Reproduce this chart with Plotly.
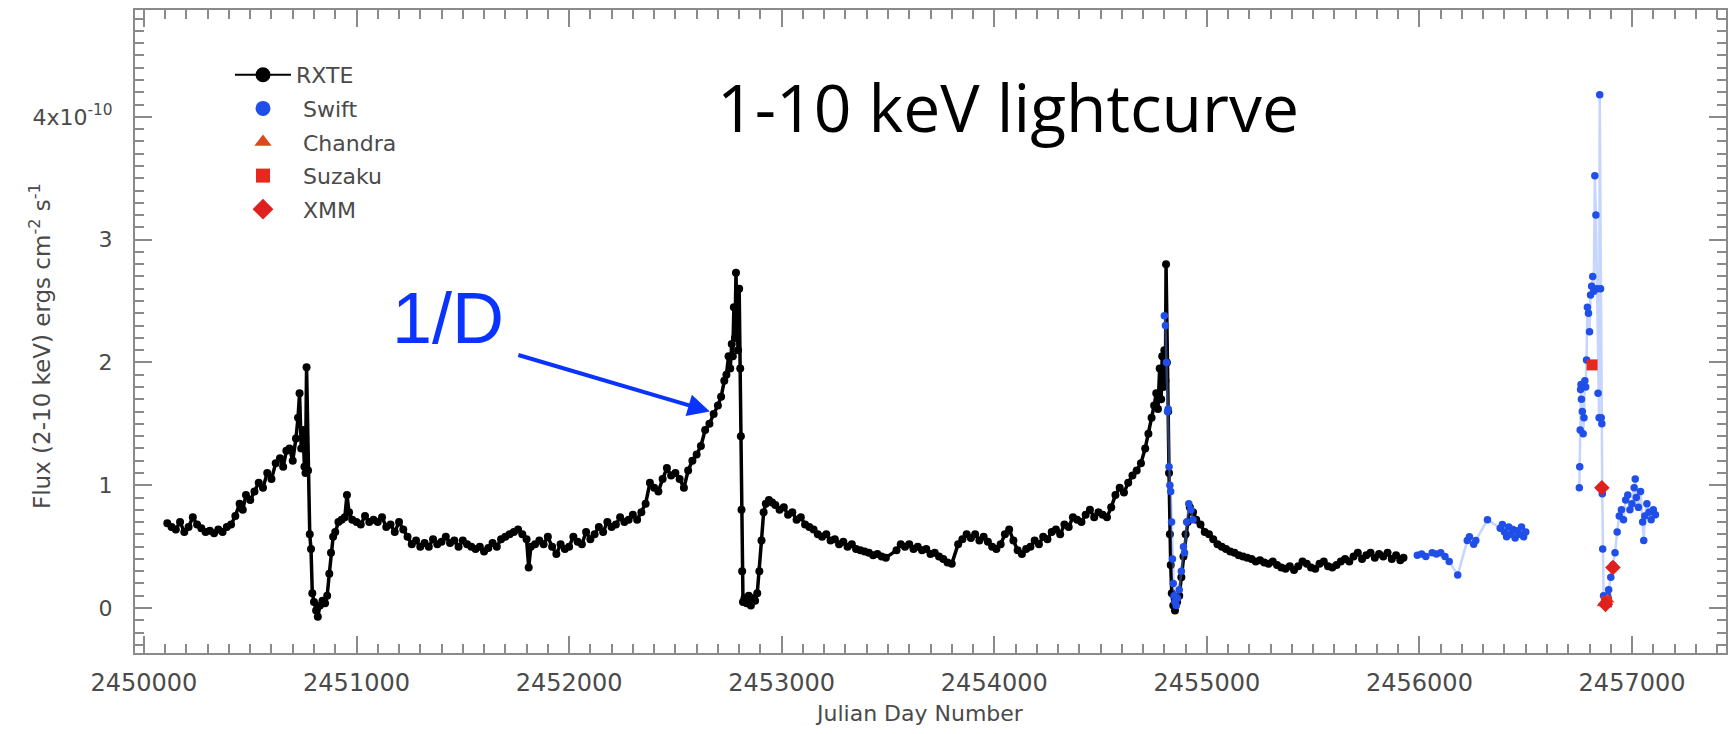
import plotly.graph_objects as go

# ---------------- data (Julian Day, flux in 1e-10 erg cm^-2 s^-1) ----------------
rxte_jd = [
    2450110, 2450130, 2450150, 2450170, 2450190, 2450210, 2450230, 2450250, 2450270, 2450290,
    2450310, 2450330, 2450350, 2450370, 2450390, 2450410, 2450430, 2450450, 2450465, 2450480,
    2450500, 2450520, 2450540, 2450560, 2450580, 2450600, 2450620, 2450640, 2450655, 2450670,
    2450685, 2450700, 2450715, 2450725, 2450732, 2450740, 2450748, 2450755, 2450760, 2450765,
    2450772, 2450780, 2450786, 2450792, 2450800, 2450810, 2450818, 2450828, 2450840, 2450852,
    2450862, 2450872, 2450880, 2450890, 2450900, 2450915, 2450930, 2450945, 2450955, 2450965,
    2450980, 2451000, 2451020, 2451040, 2451060, 2451080, 2451100, 2451120, 2451140, 2451160,
    2451180, 2451200, 2451220, 2451240, 2451260, 2451280, 2451300, 2451320, 2451340, 2451360,
    2451380, 2451400, 2451420, 2451440, 2451460, 2451480, 2451500, 2451520, 2451540, 2451560,
    2451580, 2451600, 2451620, 2451640, 2451660, 2451680, 2451700, 2451720, 2451740, 2451760,
    2451780, 2451800, 2451810, 2451820, 2451840, 2451860, 2451880, 2451900, 2451920, 2451940,
    2451960, 2451980, 2452000, 2452020, 2452040, 2452060, 2452080, 2452100, 2452120, 2452140,
    2452160, 2452180, 2452200, 2452220, 2452240, 2452260, 2452280, 2452300, 2452320, 2452340,
    2452360, 2452380, 2452400, 2452420, 2452440, 2452460, 2452480, 2452500, 2452520, 2452540,
    2452560, 2452580, 2452600, 2452620, 2452640, 2452660, 2452680, 2452700, 2452715, 2452730,
    2452740, 2452750, 2452758, 2452765, 2452770, 2452775, 2452780, 2452785, 2452790, 2452795,
    2452800, 2452805, 2452808, 2452811, 2452814, 2452818, 2452825, 2452835, 2452845, 2452855,
    2452865, 2452875, 2452885, 2452895, 2452905, 2452915, 2452925, 2452940, 2452955, 2452970,
    2452990, 2453010, 2453030, 2453050, 2453070, 2453090, 2453110, 2453130, 2453150, 2453170,
    2453190, 2453210, 2453230, 2453250, 2453270, 2453290, 2453310, 2453330, 2453350, 2453370,
    2453390, 2453410, 2453430, 2453450, 2453470, 2453490, 2453540, 2453560, 2453580, 2453600,
    2453620, 2453640, 2453660, 2453680, 2453700, 2453720, 2453740, 2453760, 2453780, 2453800,
    2453830, 2453850, 2453870, 2453890, 2453910, 2453930, 2453950, 2453970, 2453990, 2454010,
    2454030, 2454050, 2454070, 2454090, 2454110, 2454130, 2454150, 2454170, 2454190, 2454210,
    2454230, 2454250, 2454270, 2454290, 2454310, 2454330, 2454350, 2454370, 2454390, 2454410,
    2454430, 2454450, 2454470, 2454490, 2454510, 2454530, 2454550, 2454570, 2454590, 2454610,
    2454630, 2454650, 2454670, 2454690, 2454710, 2454725, 2454740, 2454752, 2454762, 2454770,
    2454778, 2454785, 2454790, 2454795, 2454800, 2454805, 2454808, 2454812, 2454818, 2454822,
    2454826, 2454830, 2454835, 2454842, 2454850, 2454860, 2454870, 2454880, 2454890, 2454900,
    2454910, 2454920, 2454935, 2454950, 2454970, 2454990, 2455010, 2455030, 2455050, 2455070,
    2455090, 2455110, 2455130, 2455150, 2455170, 2455190, 2455210, 2455230, 2455250, 2455270,
    2455290, 2455310, 2455330, 2455350, 2455370, 2455390, 2455410, 2455430, 2455450, 2455470,
    2455490, 2455510, 2455530, 2455550, 2455570, 2455590, 2455610, 2455630, 2455650, 2455670,
    2455690, 2455710, 2455730, 2455750, 2455770, 2455790, 2455810, 2455830, 2455850, 2455870,
    2455890, 2455910, 2455925,
]
rxte_flux = [
    0.69, 0.66, 0.64, 0.70, 0.62, 0.66, 0.74, 0.68, 0.65, 0.62,
    0.63, 0.61, 0.64, 0.62, 0.66, 0.68, 0.75, 0.85, 0.80, 0.92,
    0.88, 0.95, 1.02, 0.98, 1.10, 1.05, 1.18, 1.22, 1.15, 1.28,
    1.30, 1.20, 1.38, 1.55, 1.75, 1.30, 1.45, 1.15, 1.10, 1.96,
    1.12, 0.60, 0.48, 0.12, 0.05, -0.02, -0.07, 0.02, 0.06, 0.04,
    0.10, 0.28, 0.45, 0.58, 0.62, 0.70, 0.72, 0.74, 0.92, 0.78,
    0.72, 0.70, 0.68, 0.75, 0.70, 0.72, 0.70, 0.74, 0.66, 0.68,
    0.62, 0.70, 0.64, 0.58, 0.52, 0.55, 0.50, 0.53, 0.50, 0.56,
    0.52, 0.54, 0.58, 0.53, 0.55, 0.50, 0.55, 0.52, 0.50, 0.48,
    0.50, 0.46, 0.49, 0.53, 0.50, 0.56, 0.58, 0.60, 0.62, 0.64,
    0.60, 0.56, 0.33, 0.50, 0.52, 0.55, 0.52, 0.58, 0.50, 0.44,
    0.52, 0.48, 0.50, 0.58, 0.54, 0.52, 0.62, 0.56, 0.60, 0.66,
    0.62, 0.70, 0.66, 0.68, 0.74, 0.70, 0.72, 0.76, 0.72, 0.78,
    0.85, 1.02, 0.98, 0.95, 1.05, 1.14, 1.08, 1.10, 1.05, 0.98,
    1.12, 1.20, 1.25, 1.32, 1.45, 1.50, 1.58, 1.65, 1.72, 1.85,
    1.90, 2.05, 1.95, 2.15, 2.05, 2.45, 2.20, 2.73, 2.30, 2.10,
    2.60, 1.95, 1.40, 0.80, 0.30, 0.05, 0.08, 0.04, 0.10, 0.02,
    0.08, 0.06, 0.12, 0.30, 0.55, 0.78, 0.85, 0.88, 0.86, 0.84,
    0.80, 0.82, 0.76, 0.78, 0.72, 0.74, 0.68, 0.66, 0.64, 0.60,
    0.58, 0.60, 0.55, 0.56, 0.52, 0.54, 0.50, 0.52, 0.48, 0.47,
    0.46, 0.45, 0.43, 0.44, 0.42, 0.41, 0.47, 0.52, 0.50, 0.52,
    0.48, 0.50, 0.47, 0.48, 0.44, 0.45, 0.42, 0.40, 0.37, 0.36,
    0.52, 0.56, 0.60, 0.57, 0.60, 0.55, 0.58, 0.54, 0.50, 0.48,
    0.52, 0.60, 0.64, 0.55, 0.47, 0.44, 0.48, 0.50, 0.55, 0.52,
    0.58, 0.56, 0.62, 0.64, 0.60, 0.68, 0.66, 0.74, 0.72, 0.70,
    0.76, 0.80, 0.74, 0.78, 0.76, 0.74, 0.82, 0.92, 0.98, 0.94,
    1.02, 1.08, 1.12, 1.18, 1.30, 1.42, 1.55, 1.65, 1.75, 1.62,
    1.95, 1.70, 2.05, 1.80, 2.10, 1.85, 2.80, 2.00, 1.60, 1.10,
    0.60, 0.35, 0.12, 0.02, -0.02, 0.05, 0.10, 0.25, 0.42, 0.60,
    0.70, 0.82, 0.78, 0.72, 0.68, 0.62, 0.60, 0.56, 0.52, 0.50,
    0.48, 0.46, 0.45, 0.43, 0.42, 0.41, 0.40, 0.38, 0.39, 0.37,
    0.36, 0.38, 0.35, 0.33, 0.32, 0.34, 0.31, 0.34, 0.38, 0.36,
    0.33, 0.32, 0.36, 0.38, 0.34, 0.33, 0.35, 0.38, 0.40, 0.38,
    0.42, 0.45, 0.40, 0.43, 0.45, 0.41, 0.44, 0.42, 0.45, 0.40,
    0.43, 0.39, 0.41,
]

swift_jd = [
    2454800, 2454805, 2454810, 2454815, 2454818, 2454822, 2454826, 2454830, 2454834, 2454838,
    2454842, 2454846, 2454850, 2454856, 2454862, 2454870, 2454880, 2454890, 2454895, 2454905,
    2454915, 2454925, 2454935,
    None,
    2455990, 2456010, 2456030, 2456060, 2456080, 2456100, 2456120, 2456140, 2456180, 2456225,
    2456235, 2456255, 2456265, 2456320, 2456380, 2456390, 2456400, 2456410, 2456420, 2456430,
    2456440, 2456450, 2456460, 2456470, 2456480, 2456490, 2456500,
    None,
    2456752, 2456754, 2456756, 2456758, 2456760, 2456762, 2456766, 2456770, 2456774, 2456778,
    2456782, 2456786, 2456790, 2456795, 2456800, 2456805, 2456810, 2456815, 2456820, 2456825,
    2456830, 2456835, 2456840, 2456845, 2456848, 2456852, 2456855, 2456858, 2456860, 2456862,
    2456866, 2456870, 2456875, 2456880, 2456885, 2456890, 2456900, 2456910, 2456920, 2456930,
    2456940, 2456950, 2456960, 2456970, 2456980, 2456990, 2457000, 2457010, 2457015, 2457020,
    2457030, 2457040, 2457050, 2457055, 2457060, 2457070, 2457080, 2457090, 2457100, 2457110,
]
swift_flux = [
    2.38, 2.30, 2.00, 1.60, 1.62, 1.15, 1.00, 0.95, 0.70, 0.40,
    0.20, 0.10, 0.05, 0.02, 0.08, 0.15, 0.30, 0.50, 0.45, 0.70,
    0.85, 0.80, 0.72,
    None,
    0.43, 0.44, 0.42, 0.45, 0.44, 0.45, 0.42, 0.38, 0.27, 0.55,
    0.58, 0.52, 0.55, 0.72, 0.65, 0.68, 0.62, 0.58, 0.66, 0.60,
    0.64, 0.57, 0.63, 0.60, 0.66, 0.58, 0.62,
    None,
    0.98, 1.15, 1.45, 1.78, 1.82, 1.70, 1.60, 1.42, 1.55, 1.85,
    1.80, 2.02, 2.45, 2.40, 2.25, 2.55, 2.62, 2.70, 2.58, 3.52,
    3.20, 2.60, 1.75, 1.55, 4.18, 2.60, 1.55, 1.50, 0.93, 0.48,
    0.10, 0.05, 0.04, 0.08, 0.10, 0.15, 0.25, 0.35, 0.45, 0.62,
    0.75, 0.80, 0.72, 0.88, 0.92, 0.80, 0.85, 0.98, 1.05, 0.90,
    0.82, 0.95, 0.70, 0.55, 0.75, 0.85, 0.78, 0.72, 0.80, 0.76,
]

chandra_jd = [2456866, 2456885]
chandra_flux = [0.04, 0.07]
suzaku_jd = [2456812, 2456880]
suzaku_flux = [1.98, 0.05]
xmm_jd = [2456858, 2456875, 2456910]
xmm_flux = [0.98, 0.03, 0.33]

x_ticks = [2450000, 2451000, 2452000, 2453000, 2454000, 2455000, 2456000, 2457000]
x_labels = [str(v) for v in x_ticks]
y_ticks = [0, 1, 2, 3, 4]
y_labels = ["0", "1", "2", "3", "4x10<sup>-10</sup>"]
legend_names = ["RXTE", "\u00a0Swift", "\u00a0Chandra", "\u00a0Suzaku", "\u00a0XMM"]

# ---------------- figure ----------------
W, H = 1736, 734
ML, MR, MT, MB = 135, 10, 10, 81
PW, PH = W - ML - MR, H - MT - MB


def px(xp):
    return (xp - ML) / PW


def py(yp):
    return (H - MB - yp) / PH


BLUE = "#1f4ee8"
SWIFT_LINE = "rgba(110,150,255,0.4)"
RED_C, RED_S, RED_X = "#e0461c", "#e6281e", "#e0201e"

fig = go.Figure()
fig.add_trace(go.Scatter(
    x=rxte_jd, y=rxte_flux, mode="lines+markers", showlegend=False,
    line=dict(color="black", width=3.5),
    marker=dict(color="black", size=8, symbol="circle"),
))
fig.add_trace(go.Scatter(
    x=swift_jd, y=swift_flux, mode="lines+markers", showlegend=False,
    line=dict(color=SWIFT_LINE, width=2.5),
    marker=dict(color=BLUE, size=7.5, symbol="circle"),
    connectgaps=False,
))
fig.add_trace(go.Scatter(
    x=chandra_jd, y=chandra_flux, mode="markers", showlegend=False,
    marker=dict(color=RED_C, size=12, symbol="triangle-up"),
))
fig.add_trace(go.Scatter(
    x=suzaku_jd, y=suzaku_flux, mode="markers", showlegend=False,
    marker=dict(color=RED_S, size=11, symbol="square"),
))
fig.add_trace(go.Scatter(
    x=xmm_jd, y=xmm_flux, mode="markers", showlegend=False,
    marker=dict(color=RED_X, size=12, symbol="diamond"),
))

# legend entries (larger symbols, as in the original key)
legend_styles = [
    dict(mode="lines+markers", line=dict(color="black", width=2),
         marker=dict(color="black", size=15, symbol="circle")),
    dict(mode="markers", marker=dict(color=BLUE, size=15, symbol="circle")),
    dict(mode="markers", marker=dict(color=RED_C, size=15, symbol="triangle-up")),
    dict(mode="markers", marker=dict(color=RED_S, size=14, symbol="square")),
    dict(mode="markers", marker=dict(color=RED_X, size=16, symbol="diamond")),
]
for i, (nm, st) in enumerate(zip(legend_names, legend_styles)):
    fig.add_trace(go.Scatter(x=[None], y=[None], name=nm, showlegend=True,
                             legendgroup="g%d" % i, **st))

axis_common = dict(
    showline=True, linecolor="#8a8a8a", linewidth=2, mirror="ticks",
    ticks="inside", tickcolor="#8a8a8a", tickwidth=2, ticklen=17,
    showgrid=False, zeroline=False,
)

fig.update_xaxes(
    range=[2449958, 2457442], tickvals=x_ticks, ticktext=x_labels,
    tickfont=dict(family="DejaVu Sans", size=24, color="#4a4a4a"),
    ticklabelstandoff=7,
    minor=dict(dtick=100, tick0=2450000, ticks="inside", ticklen=9,
               tickcolor="#8a8a8a", tickwidth=2, showgrid=False),
    **axis_common,
)
fig.update_yaxes(
    range=[-0.366, 4.87], tickvals=y_ticks, ticktext=y_labels,
    tickfont=dict(family="DejaVu Sans", size=22, color="#4a4a4a"),
    ticklabelstandoff=16,
    minor=dict(dtick=0.1, tick0=0, ticks="inside", ticklen=9,
               tickcolor="#8a8a8a", tickwidth=2, showgrid=False),
    **axis_common,
)

fig.update_layout(
    width=W, height=H,
    margin=dict(l=ML, r=MR, t=MT, b=MB, autoexpand=False),
    paper_bgcolor="white", plot_bgcolor="white",
    showlegend=True,
    legend=dict(
        x=px(230), y=py(54), xanchor="left", yanchor="top",
        bgcolor="rgba(0,0,0,0)", borderwidth=0,
        font=dict(family="DejaVu Sans", size=22, color="#4a4a4a"),
        itemsizing="trace", itemwidth=56, tracegroupgap=2,
    ),
    annotations=[
        dict(x=px(1008), y=py(106), xref="paper", yref="paper",
             text="1-10 keV lightcurve", showarrow=False,
             font=dict(family="Open Sans", size=66, color="black"),
             xanchor="center", yanchor="middle"),
        dict(x=px(448), y=py(318), xref="paper", yref="paper",
             text="1/D", showarrow=False,
             font=dict(family="Liberation Sans", size=72, color="#0a33ff"),
             xanchor="center", yanchor="middle"),
        dict(x=2452662, y=1.60, xref="x", yref="y", text="",
             showarrow=True, ax=-193, ay=-57, axref="pixel", ayref="pixel",
             arrowcolor="#0a33ff", arrowwidth=4, arrowhead=2, arrowsize=1.1),
        dict(x=px(919), y=py(713), xref="paper", yref="paper",
             text="Julian Day Number", showarrow=False,
             font=dict(family="DejaVu Sans", size=22, color="#4a4a4a"),
             xanchor="center", yanchor="middle"),
        dict(x=px(40), y=py(346), xref="paper", yref="paper",
             text="Flux (2-10 keV) ergs cm<sup>-2</sup> s<sup>-1</sup>",
             showarrow=False, textangle=-90,
             font=dict(family="DejaVu Sans", size=23, color="#4a4a4a"),
             xanchor="center", yanchor="middle"),
    ],
)

fig.write_html("out.html")
